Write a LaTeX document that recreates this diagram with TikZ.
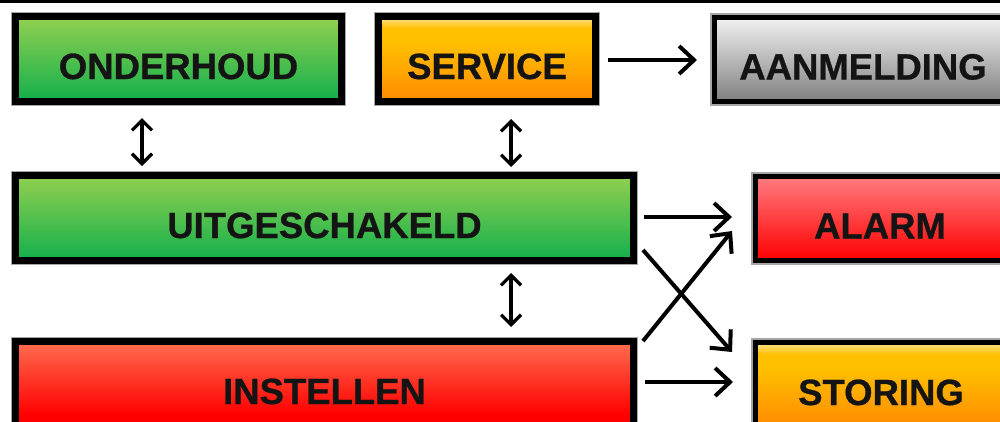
\documentclass[tikz,border=0pt]{standalone}
\usepackage{fontspec}
\setmainfont{Liberation Sans}
\newfontfamily\labelfont[FakeBold=0.8]{Liberation Sans Bold}
\usetikzlibrary{arrows.meta,calc}

% vertical fills, path spans 25bp (bottom) .. 75bp (top)
\definecolor{gtop}{HTML}{92D050}
\definecolor{gbot}{HTML}{12AF4C}
\pgfdeclareverticalshading{greenfill}{100bp}{color(0bp)=(gbot); color(25bp)=(gbot); color(75bp)=(gtop); color(100bp)=(gtop)}
\definecolor{otop}{HTML}{FFE594}
\definecolor{oyel}{HTML}{FFC000}
\definecolor{obot}{HTML}{FF8A00}
\pgfdeclareverticalshading{orangefill}{100bp}{color(0bp)=(obot); color(25bp)=(obot); color(60bp)=(oyel); color(68bp)=(oyel); color(75bp)=(otop); color(100bp)=(otop)}
\definecolor{ktop}{HTML}{F2F2F2}
\definecolor{kbot}{HTML}{7F7F7F}
\pgfdeclareverticalshading{greyfill}{100bp}{color(0bp)=(kbot); color(25bp)=(kbot); color(75bp)=(ktop); color(100bp)=(ktop)}
\definecolor{atop}{HTML}{FF7C80}
\definecolor{rbot}{HTML}{FF0000}
\pgfdeclareverticalshading{alarmfill}{100bp}{color(0bp)=(rbot); color(25bp)=(rbot); color(75bp)=(atop); color(100bp)=(atop)}
\definecolor{itop}{HTML}{FF6E50}
\pgfdeclareverticalshading{setfill}{100bp}{color(0bp)=(rbot); color(32bp)=(rbot); color(75bp)=(itop); color(100bp)=(itop)}
\definecolor{ink}{HTML}{141414}

\tikzset{
  statebox/.style={rectangle, draw=black, line width=7pt,
    preaction={draw=black!35, line width=8.2pt},
    font=\labelfont\fontsize{36.5}{36.5}\selectfont, text=ink,
    text height=40pt, text depth=0pt, inner sep=0pt},
  thinbox/.style={statebox, line width=5pt,
    preaction={draw=black!35, line width=6.2pt}},
  flow/.style={line width=4pt, -{Straight Barb[length=15pt,width=28pt]}},
  both/.style={line width=3.2pt,
    {Straight Barb[length=10pt,width=20pt]}-{Straight Barb[length=10pt,width=20pt]}}
}

\begin{document}
\begin{tikzpicture}[x=1pt,y=-1pt]
\useasboundingbox (0,0) rectangle (1000,421);
\clip (0,0) rectangle (1000,421);

% rule along the top
\fill[black] (0,0) rectangle (1000,3);

% states
\node[statebox, shading=greenfill, minimum width=326pt, minimum height=85pt] (onderhoud) at (178.5,59) {ONDERHOUD};
\node[statebox, shading=orangefill, minimum width=217pt, minimum height=85pt] (service) at (487,59) {SERVICE};
\node[thinbox, shading=greyfill, minimum width=297pt, minimum height=84pt] (aanmelding) at (863,59.5) {AANMELDING};
\node[statebox, shading=greenfill, minimum width=618pt, minimum height=85pt] (uit) at (324.5,218) {UITGESCHAKELD};
\node[statebox, shading=setfill, minimum width=618pt, minimum height=85pt] (instellen) at (324.5,384) {INSTELLEN};
\node[thinbox, shading=alarmfill, minimum width=249pt, minimum height=84pt] (alarm) at (880,218.5) {ALARM};
\node[thinbox, shading=orangefill, minimum width=251pt, minimum height=85pt] (storing) at (881,385) {STORING};

% two-way links
\draw[both, shorten <=13pt, shorten >=6pt]
  ([xshift=-36.5pt]onderhoud.south) -- ([xshift=-36.5pt]onderhoud.south |- uit.north);
\draw[both, shorten <=14pt, shorten >=5pt]
  ([xshift=24pt]service.south) -- ([xshift=24pt]service.south |- uit.north);
\draw[both, shorten <=9pt, shorten >=11pt]
  ([xshift=186.5pt]uit.south) -- ([xshift=186.5pt]uit.south |- instellen.north);

% one-way links
\draw[flow, shorten <=9pt, shorten >=15pt]
  ([yshift=-1pt]service.east) -- ([yshift=-1pt]service.east -| aanmelding.west);
\draw[flow, shorten <=7pt, shorten >=21pt]
  ([yshift=1pt]uit.east) -- ([yshift=1pt]uit.east -| alarm.west);
\draw[flow, shorten <=8pt, shorten >=20pt]
  ([yshift=2pt]instellen.east) -- ([yshift=2pt]instellen.east -| storing.west);
\draw[flow] ($(instellen.north east)+(6,3)$) -- ($(alarm.south west)+(-21,-32)$);
\draw[flow] ($(uit.south east)+(6,-14)$) -- ($(storing.north west)+(-21,12)$);
\end{tikzpicture}
\end{document}
